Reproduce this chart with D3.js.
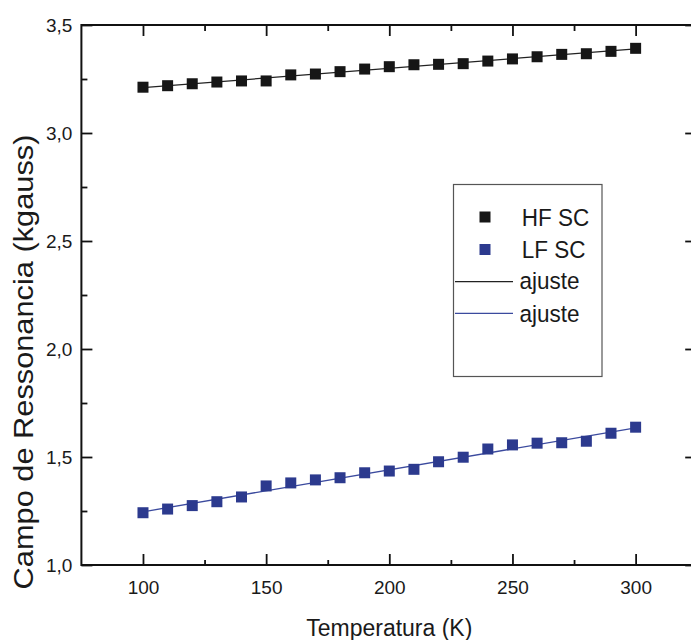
<!DOCTYPE html>
<html>
<head>
<meta charset="utf-8">
<script src="https://cdn.jsdelivr.net/npm/d3@7"></script>
<style>
  html, body { margin: 0; padding: 0; background: #fff; }
  svg { display: block; }
  text { font-family: "Liberation Sans", Arial, sans-serif; fill: #1a1a1a; }
</style>
</head>
<body>
<svg id="chart" width="691" height="640"></svg>
<script>
// ---- data ----
const temperatures = [100,110,120,130,140,150,160,170,180,190,200,210,220,230,240,250,260,270,280,290,300];
const hfSC = [3.212,3.219,3.228,3.236,3.241,3.241,3.269,3.273,3.284,3.296,3.307,3.316,3.318,3.321,3.333,3.343,3.353,3.364,3.367,3.378,3.392];
const lfSC = [1.242,1.259,1.275,1.293,1.315,1.366,1.380,1.394,1.404,1.427,1.435,1.443,1.478,1.499,1.537,1.556,1.564,1.566,1.573,1.610,1.638];
const xTicksMajor = [100,150,200,250,300];
const xTicksMinor = [125,175,225,275];
const yTicksMajor = [1.0,1.5,2.0,2.5,3.0,3.5];
const yTicksMinor = [1.25,1.75,2.25,2.75,3.25];
const legendLabels = ["HF SC","LF SC","ajuste","ajuste"];
const xTitle = "Temperatura (K)";
const yTitle = "Campo de Ressonancia (kgauss)";

(function () {
// ---- layout ----
const svg = d3.select("#chart");
const pLeft = 81.4, pRight = 697.2, pTop = 25, pBottom = 565;
const x = d3.scaleLinear().domain([75, 325]).range([pLeft, pRight]);
const y = d3.scaleLinear().domain([1.0, 3.5]).range([pBottom, pTop]);
const colHF = "#161616", colLF = "#2c3a8e", colLFline = "#3b4a9e";

const ptBR = d3.formatLocale({decimal: ",", thousands: ".", grouping: [3], currency: ["", ""]});
const fmtY = ptBR.format(".1f");

svg.append("rect").attr("width", 691).attr("height", 640).attr("fill", "#fff");

// ---- linear fits (least squares) ----
function fit(xs, ys) {
  const mx = d3.mean(xs), my = d3.mean(ys);
  let sxy = 0, sxx = 0;
  xs.forEach((v, i) => { sxy += (v - mx) * (ys[i] - my); sxx += (v - mx) * (v - mx); });
  const b = sxy / sxx, a = my - b * mx;
  return t => a + b * t;
}
const fHF = fit(temperatures, hfSC), fLF = fit(temperatures, lfSC);
const xr = d3.extent(temperatures);
const line = d3.line().x(d => x(d[0])).y(d => y(d[1]));

svg.append("path").datum(xr.map(t => [t, fHF(t)]))
  .attr("d", line).attr("fill", "none").attr("stroke", "#222").attr("stroke-width", 1.3);
svg.append("path").datum(xr.map(t => [t, fLF(t)]))
  .attr("d", line).attr("fill", "none").attr("stroke", colLFline).attr("stroke-width", 1.3);

// ---- markers ----
const ms = 11;
svg.append("g").selectAll("rect").data(temperatures).join("rect")
  .attr("x", (d) => x(d) - ms / 2).attr("y", (d, i) => y(hfSC[i]) - ms / 2)
  .attr("width", ms).attr("height", ms).attr("fill", colHF);
svg.append("g").selectAll("rect").data(temperatures).join("rect")
  .attr("x", (d) => x(d) - ms / 2).attr("y", (d, i) => y(lfSC[i]) - ms / 2)
  .attr("width", ms).attr("height", ms).attr("fill", colLF);

// ---- axes ----
function styleAxis(g) {
  g.select(".domain").remove();
  g.selectAll(".tick line").attr("stroke", "#111").attr("stroke-width", 1.8);
  g.selectAll(".tick text").attr("font-size", 19).attr("fill", "#1a1a1a")
    .style("font-family", '"Liberation Sans", Arial, sans-serif');
}
// bottom
svg.append("g").attr("transform", `translate(0,${pBottom})`)
  .call(d3.axisBottom(x).tickValues(xTicksMajor).tickSize(-11).tickPadding(16).tickFormat(d3.format("d")))
  .call(styleAxis);
svg.append("g").attr("transform", `translate(0,${pBottom})`)
  .call(d3.axisBottom(x).tickValues(xTicksMinor).tickSize(-5).tickFormat(""))
  .call(styleAxis);
// top
svg.append("g").attr("transform", `translate(0,${pTop})`)
  .call(d3.axisTop(x).tickValues(xTicksMajor).tickSize(-11).tickFormat(""))
  .call(styleAxis);
svg.append("g").attr("transform", `translate(0,${pTop})`)
  .call(d3.axisTop(x).tickValues(xTicksMinor).tickSize(-6).tickFormat(""))
  .call(styleAxis);
// left
svg.append("g").attr("transform", `translate(${pLeft},0)`)
  .call(d3.axisLeft(y).tickValues(yTicksMajor).tickSize(-11).tickPadding(9).tickFormat(fmtY))
  .call(styleAxis);
svg.append("g").attr("transform", `translate(${pLeft},0)`)
  .call(d3.axisLeft(y).tickValues(yTicksMinor).tickSize(-6).tickFormat(""))
  .call(styleAxis);
// right
svg.append("g").attr("transform", `translate(${pRight},0)`)
  .call(d3.axisRight(y).tickValues(yTicksMajor).tickSize(-12).tickFormat(""))
  .call(styleAxis);
svg.append("g").attr("transform", `translate(${pRight},0)`)
  .call(d3.axisRight(y).tickValues(yTicksMinor).tickSize(-6).tickFormat(""))
  .call(styleAxis);

// frame
svg.append("rect").attr("x", pLeft).attr("y", pTop)
  .attr("width", pRight - pLeft).attr("height", pBottom - pTop)
  .attr("fill", "none").attr("stroke", "#111").attr("stroke-width", 2);

// ---- titles ----
svg.append("text")
  .attr("transform", `translate(${(pLeft + pRight) / 2},636) scale(1,1.08)`)
  .attr("text-anchor", "middle").attr("font-size", 23).text(xTitle);
svg.append("text")
  .attr("transform", `translate(33,362) scale(1,1.14) rotate(-90)`)
  .attr("text-anchor", "middle").attr("font-size", 27).text(yTitle);

// ---- legend ----
const lg = svg.append("g");
lg.append("rect").attr("x", 453.5).attr("y", 184.5).attr("width", 148.5).attr("height", 192)
  .attr("fill", "#fff").attr("stroke", "#555").attr("stroke-width", 1.2);
const legendRows = [
  {type: "sq", color: colHF, cy: 217, base: 225.7},
  {type: "sq", color: colLF, cy: 249.5, base: 257.7},
  {type: "ln", color: "#222", cy: 281.7, base: 289},
  {type: "ln", color: colLFline, cy: 313.3, base: 321.5}
];
legendRows.forEach((r, i) => {
  if (r.type === "sq") {
    lg.append("rect").attr("x", 485 - 5.5).attr("y", r.cy - 5.5).attr("width", 11).attr("height", 11).attr("fill", r.color);
  } else {
    lg.append("line").attr("x1", 455).attr("x2", 513).attr("y1", r.cy).attr("y2", r.cy)
      .attr("stroke", r.color).attr("stroke-width", 1.3);
  }
  lg.append("text").attr("transform", `translate(${i < 2 ? 521.7 : 519.5},${r.base}) scale(1,1.08)`)
    .attr("font-size", 22.5).text(legendLabels[i]);
});
})();
</script>
</body>
</html>
